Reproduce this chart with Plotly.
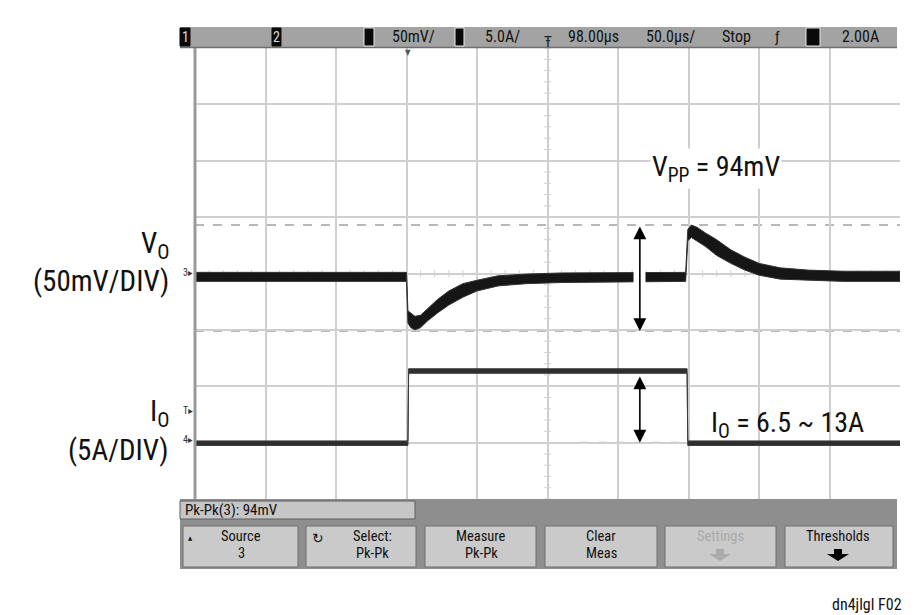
import plotly.graph_objects as go

# ---------------- data ----------------
# Output voltage trace (channel 3), noise envelope, mV vs time in µs from the screen's left edge
t_us = [0, 150, 151, 153, 156, 160, 165, 172, 180, 190, 200, 215, 235, 260, 348,
        349.5, 352, 356, 362, 370, 380, 390, 400, 415, 435, 460, 500]
v_upper_mV = [1, 1, -33, -35, -38, -37, -31, -23, -15.5, -9, -6, -2, -0.5, 0.5, 1,
              39, 43, 41, 36, 30, 21, 14.5, 9, 5, 3, 2, 2]
v_lower_mV = [-7, -7, -44, -48, -50, -48, -42, -35, -28, -21, -15.5, -11, -9, -8, -7,
              29, 32, 29, 24, 16, 9, 3, -1.5, -5, -6, -7, -7]

# Load current trace (channel 4), amps
i_t_us = [0, 151, 151.5, 349, 349.5, 500]
i_upper_A = [6.65, 6.65, 13.05, 13.05, 6.65, 6.65]
i_lower_A = [6.25, 6.25, 12.65, 12.65, 6.25, 6.25]

vpp_max_mV = 43
vpp_min_mV = -51
i_low_A = 6.5
i_high_A = 12.5

top_bar_texts = ["50mV/", "5.0A/", "98.00µs", "50.0µs/", "Stop", "2.00A"]
button_labels = [("Source", "3"), ("Select:", "Pk-Pk"), ("Measure", "Pk-Pk"),
                 ("Clear", "Meas"), ("Settings", ""), ("Thresholds", "")]
measure_text = "Pk-Pk(3): 94mV"

# ---------------- layout helpers ----------------
# the page body has an 8px margin, so the figure is drawn 8px in from the window corner
OFF = 8
W, H = 920 - OFF, 615 - OFF
L, R, T, B = 195, 900, 48, 499          # plot area in window pixels
FONT = "Liberation Sans Narrow, Arial Narrow, Roboto Condensed, DejaVu Sans Condensed, Liberation Sans, sans-serif"


def px(x):
    return (x - L) / (R - L)


def py(y):
    return (B - y) / (B - T)


def label(x, y, text, size, color="#111", xanchor="center", family=FONT, **kw):
    d = dict(xref="paper", yref="paper", x=px(x), y=py(y), text=text, showarrow=False,
             xanchor=xanchor, yanchor="middle", font=dict(family=family, size=size, color=color))
    d.update(kw)
    return d


fig = go.Figure()

# graticule centre tick marks
fig.add_trace(go.Scatter(x=[250] * 41, y=list(range(-200, 201, 10)), mode="markers",
                         marker=dict(symbol="line-ew", size=5, line=dict(width=1, color="#d2d2d2")),
                         hoverinfo="skip", showlegend=False))
fig.add_trace(go.Scatter(x=list(range(0, 501, 10)), y=[0] * 51, mode="markers",
                         marker=dict(symbol="line-ns", size=5, line=dict(width=1, color="#d2d2d2")),
                         hoverinfo="skip", showlegend=False))

# V trace band
fig.add_trace(go.Scatter(x=t_us + t_us[::-1], y=v_upper_mV + v_lower_mV[::-1],
                         fill="toself", fillcolor="#161616", mode="lines",
                         line=dict(color="#333333", width=1), showlegend=False, hoverinfo="skip"))
# I trace band
fig.add_trace(go.Scatter(x=i_t_us + i_t_us[::-1], y=i_upper_A + i_lower_A[::-1],
                         fill="toself", fillcolor="#2e2e2e", mode="lines",
                         line=dict(color="#3a3a3a", width=1), showlegend=False, hoverinfo="skip",
                         yaxis="y2"))

shapes = []
annotations = []

# measurement cursors
for yv in (vpp_max_mV, vpp_min_mV):
    shapes.append(dict(type="line", xref="paper", yref="y", x0=0, x1=1, y0=yv, y1=yv,
                       line=dict(color="#b8b8b8", width=2, dash="dash"), layer="below"))
shapes.append(dict(type="line", xref="x", yref="y2", x0=273, x1=349, y0=i_low_A, y1=i_low_A,
                   line=dict(color="#b8b8b8", width=2, dash="dash"), layer="below"))

# white gap behind the V arrow
shapes.append(dict(type="rect", xref="x", yref="y", x0=311, x1=319.5, y0=-14, y1=6,
                   fillcolor="white", line=dict(width=0), layer="above"))

# left border
shapes.append(dict(type="line", xref="paper", yref="paper", x0=0, x1=0, y0=0, y1=1,
                   line=dict(color="#9a9a9a", width=3)))

# top status bar
shapes.append(dict(type="rect", xref="paper", yref="paper", x0=px(180), x1=px(897), y0=py(48), y1=py(27),
                   fillcolor="#a3a3a3", line=dict(width=0)))
shapes.append(dict(type="line", xref="paper", yref="paper", x0=px(180), x1=px(897), y0=py(47.5), y1=py(47.5),
                   line=dict(color="#6e6e6e", width=1.5)))
for (x0, x1, outline) in [(180, 190, False), (272, 281, False), (364, 374, True),
                          (455, 464, True), (806, 820, True)]:
    shapes.append(dict(type="rect", xref="paper", yref="paper", x0=px(x0), x1=px(x1),
                       y0=py(46), y1=py(28), fillcolor="#0a0a0a",
                       line=dict(color="#e8e8e8" if outline else "#0a0a0a", width=1)))
annotations.append(label(185, 37, "1", 14, "#dddddd"))
annotations.append(label(276.5, 37, "2", 14, "#dddddd"))
for txt, cx in zip(top_bar_texts, [413, 502, 593, 670, 736, 860]):
    annotations.append(label(cx, 37, txt, 16))
annotations.append(label(777, 37, "ƒ", 15))
annotations.append(label(548, 42, "Ŧ", 15, "#222"))
annotations.append(label(408, 52, "▼", 8, "#555"))

# ground / trigger markers on the left
for txt, yy in [("3▸", 272), ("T▸", 410), ("4▸", 439)]:
    annotations.append(label(195, yy, txt, 10, "#333", xanchor="right"))

# bottom softkey panel
shapes.append(dict(type="rect", xref="paper", yref="paper", x0=px(180), x1=px(897), y0=py(569), y1=py(499),
                   fillcolor="#8e8e8e", line=dict(width=0)))
shapes.append(dict(type="rect", xref="paper", yref="paper", x0=px(180), x1=px(415), y0=py(519), y1=py(501),
                   fillcolor="#c6c6c6", line=dict(color="#5e5e5e", width=1)))
annotations.append(label(183, 510, measure_text, 15, xanchor="left"))
btn_x = [(183, 298), (306, 416), (425, 536), (545, 657), (665, 776), (785, 893)]
btn_cx = [241, 372, 481, 601, 720, 838]
for (x0, x1), cx, (l1, l2) in zip(btn_x, btn_cx, button_labels):
    shapes.append(dict(type="rect", xref="paper", yref="paper", x0=px(x0), x1=px(x1), y0=py(567), y1=py(526),
                       fillcolor="#cacaca", line=dict(color="#6f6f6f", width=1)))
    col = "#a9a9a9" if l1 == "Settings" else "#111"
    annotations.append(label(cx, 536, l1, 14.5, col))
    if l2:
        annotations.append(label(cx, 553, l2, 14.5, col))
annotations.append(label(190, 537, "▲", 6))
annotations.append(label(318, 538, "↻", 14, family="DejaVu Sans"))


def down_arrow(cx, top, color):
    pts = [(cx - 4, top), (cx + 4, top), (cx + 4, top + 5), (cx + 11, top + 5), (cx, top + 12),
           (cx - 11, top + 5), (cx - 4, top + 5)]
    path = "M " + " L ".join(f"{px(a):.5f},{py(b):.5f}" for a, b in pts) + " Z"
    return dict(type="path", xref="paper", yref="paper", path=path, fillcolor=color, line=dict(width=0))


shapes.append(down_arrow(720, 549, "#aaaaaa"))
shapes.append(down_arrow(838, 549, "#000000"))

# signal annotations
annotations.append(dict(xref="x", yref="y", x=315.5, y=vpp_min_mV, ax=315.5, ay=vpp_max_mV,
                        axref="x", ayref="y", text="", showarrow=True, arrowhead=2, arrowside="end+start",
                        arrowsize=1.6, arrowwidth=1.6, arrowcolor="#000"))
annotations.append(dict(xref="x", yref="y2", x=315.5, y=i_low_A, ax=315.5, ay=i_high_A,
                        axref="x", ayref="y2", text="", showarrow=True, arrowhead=2, arrowside="end+start",
                        arrowsize=1.6, arrowwidth=1.6, arrowcolor="#000"))
annotations.append(dict(xref="x", yref="y", x=369.5, y=93.5, text="V<sub>PP</sub> = 94mV", showarrow=False,
                        xanchor="center", yanchor="middle",
                        bgcolor="white", font=dict(family=FONT, size=28, color="#111")))
annotations.append(dict(xref="x", yref="y2", x=420, y=8.1, text="I<sub>O</sub> = 6.5 ~ 13A", showarrow=False,
                        xanchor="center", yanchor="middle", borderpad=0,
                        font=dict(family=FONT, size=28, color="#111")))

# left channel labels
for txt, yy in [("V<sub>O</sub>", 245), ("(50mV/DIV)", 281), ("I<sub>O</sub>", 413), ("(5A/DIV)", 450)]:
    annotations.append(label(170, yy, txt, 29, xanchor="right", borderpad=0))

# figure id
annotations.append(label(904, 604, "dn4jlgl F02", 16, xanchor="right"))

grid = dict(showgrid=True, gridcolor="#cfcfcf", gridwidth=1.5, zeroline=False,
            showticklabels=False, ticks="", showline=False)
fig.update_layout(
    width=W, height=H,
    margin=dict(l=L - OFF, r=(920 - R), t=T - OFF, b=(615 - B)),
    paper_bgcolor="white", plot_bgcolor="white",
    xaxis=dict(range=[0, 500], dtick=50, tick0=0, **grid),
    yaxis=dict(range=[-200, 200], dtick=50, tick0=0, **grid),
    yaxis2=dict(range=[1.5, 41.5], overlaying="y", visible=False),
    shapes=shapes, annotations=annotations, showlegend=False,
)

fig.write_html("out.html")
